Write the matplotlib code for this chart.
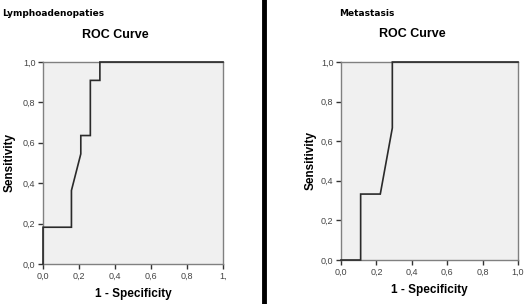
import matplotlib.pyplot as plt
from matplotlib.lines import Line2D

plt.rcParams['font.family'] = ['Liberation Sans', 'DejaVu Sans']

# ROC points
lymph_fpr = [0.0, 0.0, 0.158, 0.158, 0.21, 0.21, 0.263, 0.263, 0.316, 0.316, 1.0]
lymph_tpr = [0.0, 0.182, 0.182, 0.364, 0.545, 0.636, 0.636, 0.909, 0.909, 1.0, 1.0]

meta_fpr = [0.0, 0.111, 0.111, 0.222, 0.29, 0.29, 1.0]
meta_tpr = [0.0, 0.0, 0.333, 0.333, 0.667, 1.0, 1.0]

ticks = [0.0, 0.2, 0.4, 0.6, 0.8, 1.0]
lymph_xlabels = ["0,0", "0,2", "0,4", "0,6", "0,8", "1,"]
meta_xlabels = ["0,0", "0,2", "0,4", "0,6", "0,8", "1,0"]
ylabels = ["0,0", "0,2", "0,4", "0,6", "0,8", "1,0"]

fig = plt.figure(figsize=(5.24, 3.04), dpi=100)
fig.patch.set_facecolor("white")


def roc_panel(rect, fpr, tpr, xlabels, ypad):
    ax = fig.add_axes(rect)
    ax.set_facecolor("#f0f0f0")
    ax.plot(fpr, tpr, color="#2a2a2a", lw=1.2, solid_joinstyle="miter", clip_on=False, zorder=3)
    ax.set_xlim(0, 1)
    ax.set_ylim(0, 1)
    ax.set_xticks(ticks)
    ax.set_xticklabels(xlabels)
    ax.set_yticks(ticks)
    ax.set_yticklabels(ylabels)
    for s in ax.spines.values():
        s.set_color("#808080")
        s.set_linewidth(1.0)
    ax.tick_params(direction="out", length=3.5, width=1.0, color="#333333",
                   labelsize=6.5, labelcolor="#444444", pad=2)
    ax.set_xlabel("1 - Specificity", fontsize=8.5, fontweight="bold", labelpad=5)
    ax.set_ylabel("Sensitivity", fontsize=8.5, fontweight="bold", labelpad=ypad)
    return ax


ax1 = roc_panel([43 / 524, 1 - 264 / 304, 180 / 524, 202 / 304], lymph_fpr, lymph_tpr, lymph_xlabels, 5)
ax2 = roc_panel([341 / 524, 1 - 260 / 304, 177 / 524, 198 / 304], meta_fpr, meta_tpr, meta_xlabels, 3)

fig.text(2 / 524, 1 - 14 / 304, "Lymphoadenopaties", fontsize=6.5, fontweight="bold",
         va="center", family="DejaVu Sans")
fig.text(115 / 524, 1 - 35 / 304, "ROC Curve", fontsize=9, fontweight="bold", ha="center", va="center")
fig.text(339 / 524, 1 - 13 / 304, "Metastasis", fontsize=6.5, fontweight="bold",
         va="center", family="DejaVu Sans")
fig.text(412 / 524, 1 - 34 / 304, "ROC Curve", fontsize=9, fontweight="bold", ha="center", va="center")

# divider between the two panels
fig.add_artist(Line2D([264 / 524, 264 / 524], [0, 1], color="black", lw=3.5))

fig.savefig("out.png", dpi=100)
